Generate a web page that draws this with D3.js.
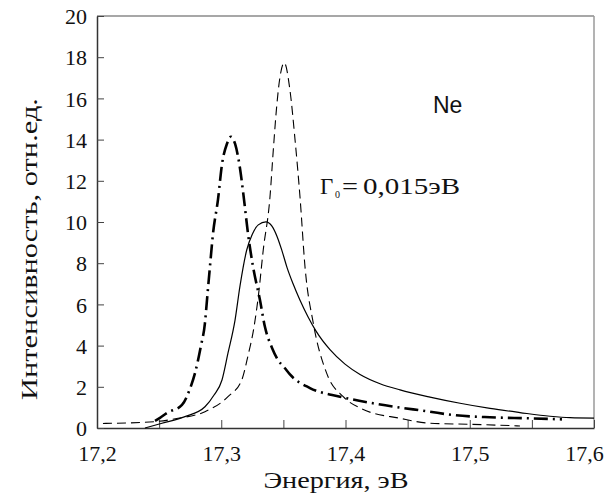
<!DOCTYPE html>
<html>
<head>
<meta charset="utf-8">
<script src="https://cdn.jsdelivr.net/npm/d3@7"></script>
<style>
  body { margin: 0; background: #fff; }
  .tick text { font-family: "Liberation Serif", serif; font-size: 22px; fill: #111; }
  .aText { font-family: "Liberation Serif", serif; font-size: 23px; fill: #111; }
</style>
</head>
<body>
<div id="chart"></div>
<script>
// chart data (energy in eV, intensity in rel. units)
var dashDotX = [17.2467, 17.2507, 17.2563, 17.2684, 17.2748, 17.2789, 17.2837, 17.2869, 17.2885, 17.2909,
  17.2934, 17.2974, 17.3006, 17.3046, 17.3078, 17.3111, 17.3151, 17.3183, 17.3215, 17.3256,
  17.3312, 17.3352, 17.3408, 17.3457, 17.3513, 17.3553, 17.3714, 17.3956, 17.4221, 17.468,
  17.4865, 17.5163, 17.5485, 17.5742];
var dashDotY = [0.35, 0.49, 0.73, 1.12, 1.9, 2.67, 4.0, 5.1, 6.2, 7.83,
  9.45, 11.1, 12.8, 13.8, 14.14, 13.8, 12.6, 11.1, 9.45, 7.83,
  6.2, 4.9, 3.9, 3.3, 2.9, 2.6, 1.94, 1.52, 1.2, 0.79,
  0.63, 0.52, 0.47, 0.42];

var solidX = [17.2386, 17.2523, 17.2708, 17.2869, 17.2942, 17.3006, 17.3054, 17.3111, 17.3151, 17.3205,
  17.3250, 17.3298, 17.336, 17.3408, 17.3449, 17.3489, 17.3529, 17.3578, 17.3634, 17.3698,
  17.3763, 17.3875, 17.3996, 17.4117, 17.4278, 17.4439, 17.468, 17.4922, 17.5163, 17.5404,
  17.5646, 17.5807, 17.6];
var solidY = [0, 0.23, 0.55, 1.03, 1.6, 2.33, 3.63, 5.24, 6.9, 8.64,
  9.4, 9.86, 10.01, 9.8, 9.3, 8.6, 7.8, 7.0, 6.2, 5.4,
  4.7, 3.8, 3.1, 2.6, 2.15, 1.85, 1.5, 1.2, 0.95, 0.75,
  0.57, 0.5, 0.48];

var dashedX = [17.2048, 17.2467, 17.2652, 17.2869, 17.3054, 17.3165, 17.3215, 17.3264, 17.3298, 17.3338,
  17.3392, 17.3419, 17.3446, 17.3473, 17.3507, 17.3553, 17.3594, 17.3634, 17.3674, 17.3741,
  17.3849, 17.3982, 17.4143, 17.4439, 17.468, 17.5002, 17.5404];
var dashedY = [0.22, 0.31, 0.47, 0.79, 1.52, 2.33, 3.5, 4.92, 6.37, 8.64,
  11.2, 13.5, 15.6, 17.05, 17.73, 16.4, 13.98, 11.2, 7.83, 5.08,
  2.65, 1.52, 0.9, 0.47, 0.23, 0.18, 0.1];

var xTicks = [17.2, 17.25, 17.3, 17.35, 17.4, 17.45, 17.5, 17.55, 17.6];
var yTicks = [0, 2, 4, 6, 8, 10, 12, 14, 16, 18, 20];

var svgWidth = 608;
var svgHeight = 502;
var margin = { top: 16, right: 14, bottom: 74, left: 97 };
var width = svgWidth - margin.left - margin.right;
var height = svgHeight - margin.top - margin.bottom;

var svg = d3.select("#chart")
  .append("svg")
  .attr("width", svgWidth)
  .attr("height", svgHeight);

var chartGroup = svg.append("g")
  .attr("transform", `translate(${margin.left}, ${margin.top})`);

var xScale = d3.scaleLinear().domain([17.2, 17.6]).range([0, width]);
var yScale = d3.scaleLinear().domain([0, 20]).range([height, 0]);

// frame: top and right edges are lighter
chartGroup.append("line")
  .attr("x1", 0).attr("x2", width).attr("y1", 0).attr("y2", 0)
  .attr("stroke", "#8a8a8a").attr("stroke-width", 1.5);
chartGroup.append("line")
  .attr("x1", width).attr("x2", width).attr("y1", 0).attr("y2", height)
  .attr("stroke", "#9a9a9a").attr("stroke-width", 1.5);

// comma decimal labels, only every 0.1
var fmtX = function(d) {
  var r = Math.round(d * 100);
  if (r % 10 !== 0) return "";
  return d.toFixed(1).replace(".", ",");
};

var bottomAxis = d3.axisBottom(xScale)
  .tickValues(xTicks)
  .tickSizeInner(-8)
  .tickSizeOuter(0)
  .tickPadding(17)
  .tickFormat(fmtX);

var leftAxis = d3.axisLeft(yScale)
  .tickValues(yTicks)
  .tickSizeInner(-7)
  .tickSizeOuter(0)
  .tickPadding(10);

var gx = chartGroup.append("g")
  .attr("transform", `translate(0, ${height})`)
  .call(bottomAxis);
var gy = chartGroup.append("g")
  .call(leftAxis);

[gx, gy].forEach(function(g) {
  g.select(".domain").attr("stroke", "#333").attr("stroke-width", 1.5);
  g.selectAll(".tick line").attr("stroke", "#444").attr("stroke-width", 1);
  g.selectAll(".tick text").attr("font-family", null).attr("font-size", null);
});
gy.selectAll(".tick text").attr("dy", "0.35em");
// last label sits a bit inside the page edge
gx.selectAll(".tick text").filter(d => d === 17.6).attr("dx", -10);

// curves
var line = d3.line()
  .x(d => xScale(d[0]))
  .y(d => yScale(d[1]))
  .curve(d3.curveMonotoneX);

var solidData = d3.zip(solidX, solidY);
var dashedData = d3.zip(dashedX, dashedY);
var dashDotData = d3.zip(dashDotX, dashDotY);

chartGroup.append("path")
  .datum(solidData)
  .attr("d", line)
  .attr("fill", "none")
  .attr("stroke", "#000")
  .attr("stroke-width", 1.2);

chartGroup.append("path")
  .datum(dashedData)
  .attr("d", line)
  .attr("fill", "none")
  .attr("stroke", "#000")
  .attr("stroke-width", 1.1)
  .attr("stroke-dasharray", "9,5");

chartGroup.append("path")
  .datum(dashDotData)
  .attr("d", line)
  .attr("fill", "none")
  .attr("stroke", "#000")
  .attr("stroke-width", 2.6)
  .attr("stroke-dasharray", "14,5,2,5");

// annotations
chartGroup.append("text")
  .attr("x", 336)
  .attr("y", 97)
  .attr("font-family", "'Liberation Sans', Arial, sans-serif")
  .attr("font-size", "23px")
  .attr("fill", "#111")
  .text("Ne");

chartGroup.append("text")
  .attr("x", 223)
  .attr("y", 178)
  .attr("class", "aText")
  .text("Γ");
chartGroup.append("text")
  .attr("x", 238)
  .attr("y", 182)
  .attr("class", "aText")
  .style("font-size", "10px")
  .text("0");
chartGroup.append("text")
  .attr("x", 245)
  .attr("y", 178)
  .attr("class", "aText")
  .attr("textLength", 16)
  .attr("lengthAdjust", "spacingAndGlyphs")
  .text("=");
chartGroup.append("text")
  .attr("x", 266)
  .attr("y", 178)
  .attr("class", "aText")
  .attr("textLength", 97)
  .attr("lengthAdjust", "spacingAndGlyphs")
  .text("0,015эВ");

// axis labels
chartGroup.append("text")
  .attr("transform", "rotate(-90)")
  .attr("x", 0 - 233)
  .attr("y", 37 - margin.left)
  .attr("text-anchor", "middle")
  .attr("class", "aText")
  .attr("textLength", 302)
  .attr("lengthAdjust", "spacingAndGlyphs")
  .text("Интенсивность, отн.ед.");

chartGroup.append("text")
  .attr("x", 336 - margin.left)
  .attr("y", 488 - margin.top)
  .attr("text-anchor", "middle")
  .attr("class", "aText")
  .attr("textLength", 145)
  .attr("lengthAdjust", "spacingAndGlyphs")
  .text("Энергия, эВ");
</script>
</body>
</html>
